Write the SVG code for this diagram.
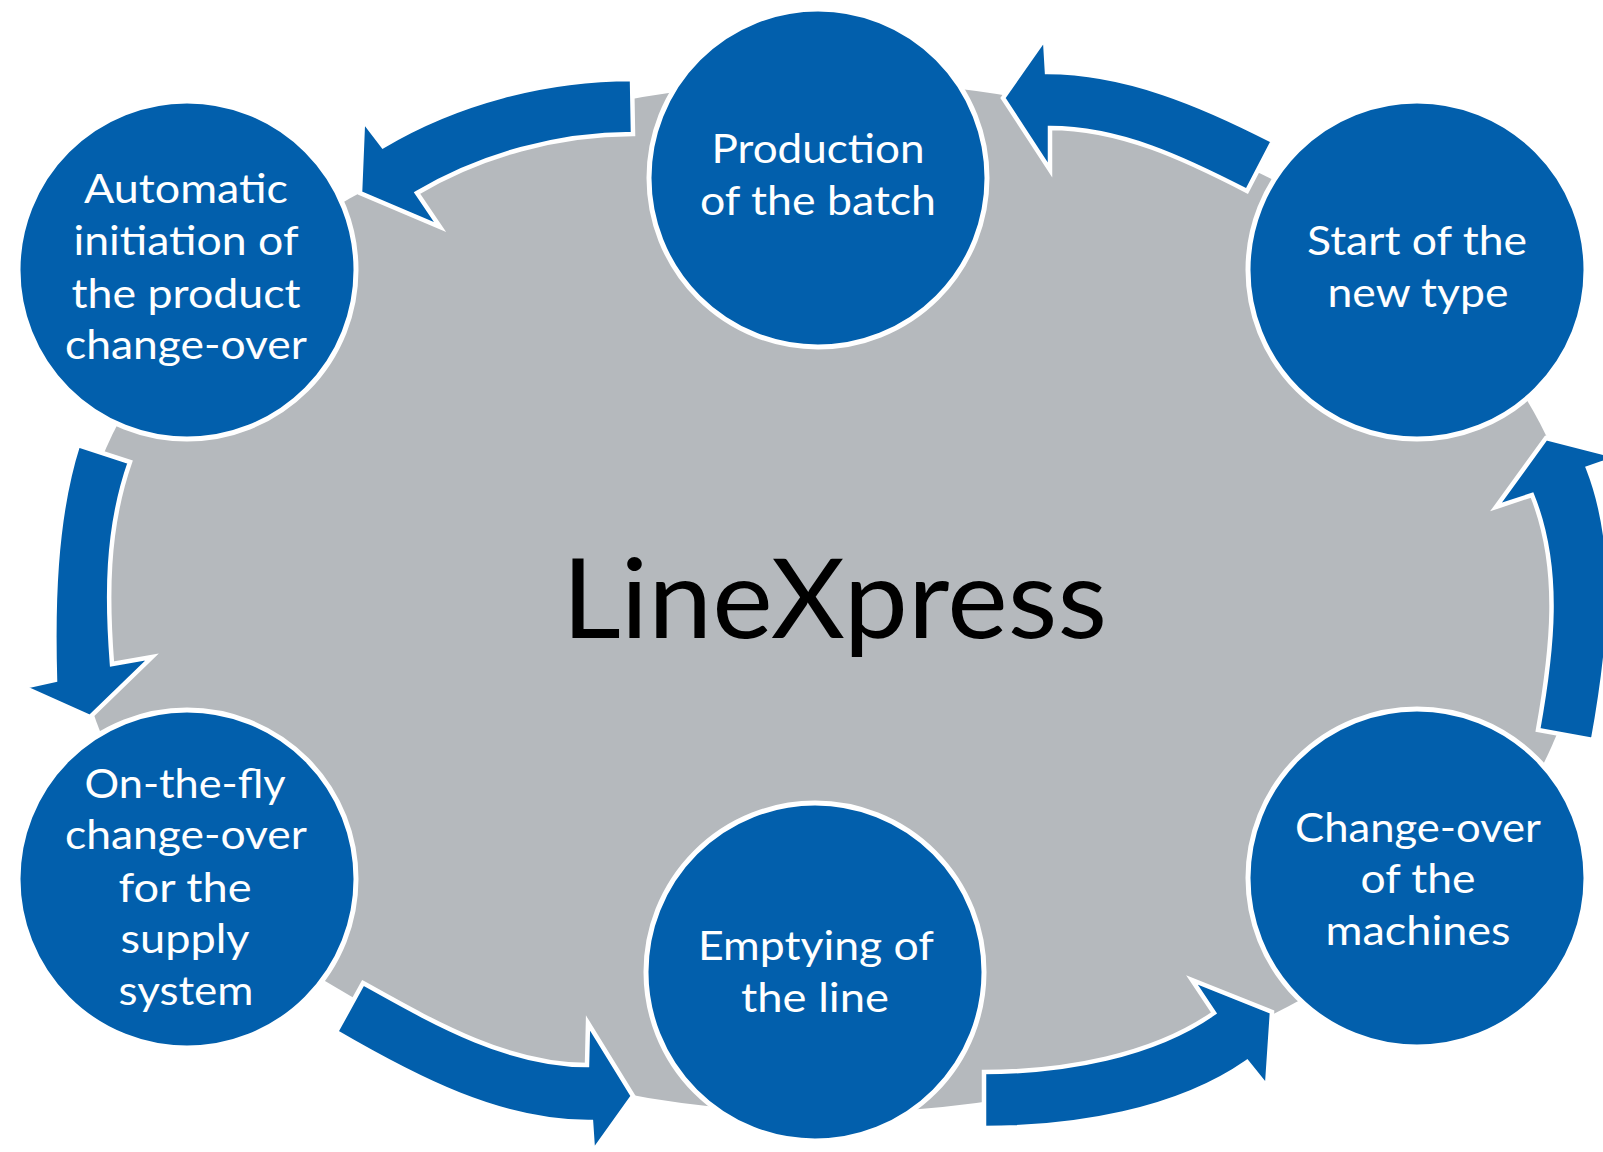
<svg xmlns="http://www.w3.org/2000/svg" width="1603" height="1152" viewBox="0 0 1603 1152">
<style>
.node{fill:#025FAC;stroke:#FFFFFF;stroke-width:5}
.arrow{fill:#025FAC;stroke:#FFFFFF;stroke-width:4.5;stroke-linejoin:miter}
.lbl{font-family:Lato,"Open Sans","Liberation Sans",sans-serif;font-size:41px;fill:#FFFFFF;text-anchor:middle}
.title{font-family:Lato,"Open Sans","Liberation Sans",sans-serif;font-size:110px;fill:#000000;text-anchor:middle}
</style>
<rect width="1603" height="1152" fill="#FFFFFF"/>
<g id="background">
<ellipse cx="829" cy="597" rx="755" ry="516" fill="#B5B9BD"/>
<text class="title" x="834.5" y="638" textLength="545" lengthAdjust="spacingAndGlyphs">LineXpress</text>
</g>
<g id="connectors">
<path class="arrow" d="M632,79 C546,79 457,102 383,146 L363,120 L360,193 L440,227 L417,193 C481,155 558,134 633,134 Z"/>
<path class="arrow" d="M78,445 C54,520 53,610 55,680 L23,687 L90,717 L152,657 L112,664 C107,600 106,530 130,462 Z"/>
<path class="arrow" d="M336,1032 C415,1078 501,1123 591,1122 L593,1152 L633,1096 L588,1023 L587,1065 C507,1065 433,1022 363,983 Z"/>
<path class="arrow" d="M984,1072 C1064,1072 1153,1056 1214,1013 L1192,980 L1272,1012 L1267,1087 L1247,1062 C1177,1111 1074,1128 984,1128 Z"/>
<path class="arrow" d="M1593,740 C1609,652 1621,552 1588,468 L1620,457 L1546,438 L1496,507 L1532,495 C1562,569 1552,652 1538,730 Z"/>
<path class="arrow" d="M1047,72 L1045,38 L1003,98 L1050,170 L1050,128 C1120,128 1185,159 1247,191 L1273,141 C1203,105 1126,72 1047,72 Z"/>
</g>
<g id="node-automatic">
<circle class="node" cx="187" cy="270" r="169"/>
<text class="lbl" x="186" y="203" textLength="204" lengthAdjust="spacingAndGlyphs">Automatic</text>
<text class="lbl" x="186" y="255" textLength="225" lengthAdjust="spacingAndGlyphs">initiation of</text>
<text class="lbl" x="186" y="308" textLength="229" lengthAdjust="spacingAndGlyphs">the product</text>
<text class="lbl" x="186" y="359" textLength="242" lengthAdjust="spacingAndGlyphs">change-over</text>
</g>
<g id="node-production">
<circle class="node" cx="818" cy="178" r="169"/>
<text class="lbl" x="818" y="163" textLength="213" lengthAdjust="spacingAndGlyphs">Production</text>
<text class="lbl" x="818" y="215" textLength="236" lengthAdjust="spacingAndGlyphs">of the batch</text>
</g>
<g id="node-start">
<circle class="node" cx="1417" cy="270" r="169"/>
<text class="lbl" x="1417" y="255" textLength="220" lengthAdjust="spacingAndGlyphs">Start of the</text>
<text class="lbl" x="1418" y="307" textLength="181" lengthAdjust="spacingAndGlyphs">new type</text>
</g>
<g id="node-changeover">
<circle class="node" cx="1417" cy="878" r="169"/>
<text class="lbl" x="1418" y="842" textLength="246" lengthAdjust="spacingAndGlyphs">Change-over</text>
<text class="lbl" x="1418" y="893" textLength="115" lengthAdjust="spacingAndGlyphs">of the</text>
<text class="lbl" x="1418" y="945" textLength="185" lengthAdjust="spacingAndGlyphs">machines</text>
</g>
<g id="node-emptying">
<circle class="node" cx="815" cy="972" r="169"/>
<text class="lbl" x="816" y="960" textLength="236" lengthAdjust="spacingAndGlyphs">Emptying of</text>
<text class="lbl" x="815" y="1012" textLength="148" lengthAdjust="spacingAndGlyphs">the line</text>
</g>
<g id="node-onthefly">
<circle class="node" cx="187" cy="879" r="169"/>
<text class="lbl" x="185" y="798" textLength="201" lengthAdjust="spacingAndGlyphs">On-the-fly</text>
<text class="lbl" x="186" y="849" textLength="242" lengthAdjust="spacingAndGlyphs">change-over</text>
<text class="lbl" x="185" y="902" textLength="133" lengthAdjust="spacingAndGlyphs">for the</text>
<text class="lbl" x="185" y="953" textLength="129" lengthAdjust="spacingAndGlyphs">supply</text>
<text class="lbl" x="186" y="1005" textLength="135" lengthAdjust="spacingAndGlyphs">system</text>
</g>
</svg>
